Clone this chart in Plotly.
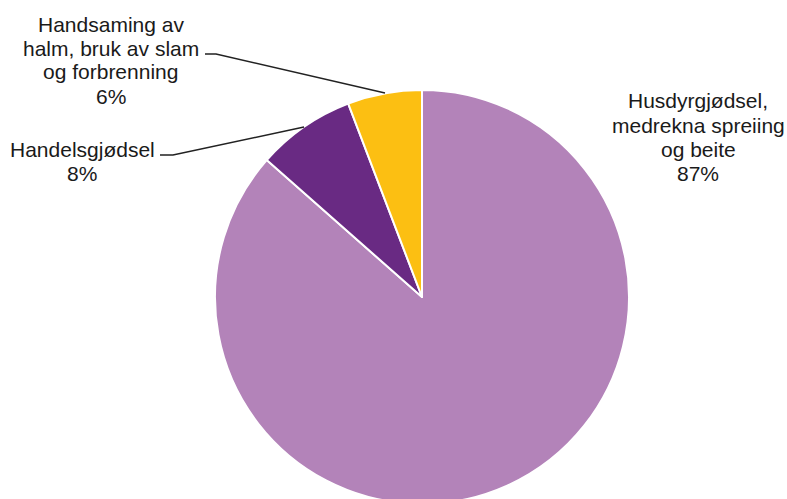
import plotly.graph_objects as go

# Data
categories = [
    "Husdyrgjødsel,<br>medrekna spreiing<br>og beite",
    "Handelsgjødsel",
    "Handsaming av<br>halm, bruk av slam<br>og forbrenning",
]
values = [86.5, 7.7, 5.8]
pct_labels = ["87%", "8%", "6%"]
colors = ["#B383B9", "#692A83", "#FCBF12"]

W, H = 787, 510


def px(x):
    return x / W


def py(y):
    return 1 - y / H


fig = go.Figure(
    go.Pie(
        labels=categories,
        values=values,
        sort=False,
        direction="clockwise",
        rotation=0,
        marker=dict(colors=colors, line=dict(color="white", width=2)),
        textinfo="none",
        hoverinfo="label+percent",
        showlegend=False,
        domain=dict(x=[px(215), px(629)], y=[py(504), py(90)]),
    )
)

font = dict(family="Liberation Sans, Arial, sans-serif", size=21, color="#1a1a1a")

label_pos = [(698, 137), (82, 161), (111, 60)]
line_gap = 24
annotations = []
for cat, pct, (x, y) in zip(categories, pct_labels, label_pos):
    lines = cat.split("<br>") + [pct]
    n = len(lines)
    for i, ln in enumerate(lines):
        yy = y + (i - (n - 1) / 2) * line_gap
        annotations.append(
            dict(
                text=ln,
                x=px(x), y=py(yy), xref="paper", yref="paper",
                xanchor="center", yanchor="middle",
                showarrow=False, font=font, align="center",
            )
        )

leaders = [
    [(205, 54), (216, 54), (385, 93)],
    [(160, 155), (173, 155), (304, 127)],
]
shapes = []
for pts in leaders:
    path = "M " + " L ".join(f"{px(a)},{py(b)}" for a, b in pts)
    shapes.append(
        dict(type="path", path=path, xref="paper", yref="paper",
             line=dict(color="#222222", width=1.5))
    )

fig.update_layout(
    width=W, height=H, autosize=False,
    margin=dict(l=0, r=0, t=0, b=0),
    paper_bgcolor="white", plot_bgcolor="white",
    annotations=annotations, shapes=shapes,
)

fig.write_html(
    "out.html",
    config={"displayModeBar": False},
    post_script="document.body.style.margin='0';document.body.style.overflow='hidden';",
)
